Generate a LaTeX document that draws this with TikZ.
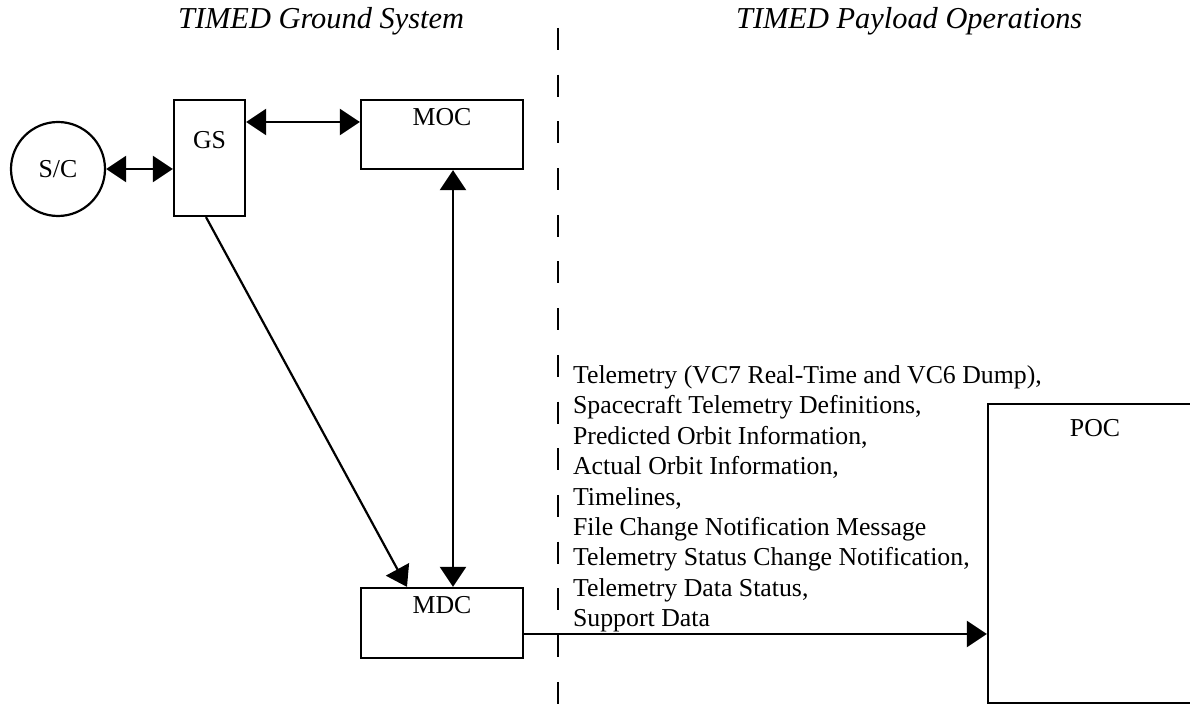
\documentclass[tikz,border=0pt]{standalone}
\usepackage{fontspec}
\setmainfont{Liberation Serif}
\usetikzlibrary{arrows.meta}

\begin{document}
\begin{tikzpicture}[x=0.5pt,y=-0.5pt,line width=1.1pt,
    font=\fontsize{12.9pt}{15.25pt}\selectfont,
    box/.style={draw,rectangle,inner sep=0pt},
    boxlabel/.style={anchor=north,inner sep=0pt},
    heading/.style={anchor=base west,inner sep=0pt,font=\fontsize{15.2pt}{18pt}\selectfont\itshape},
    tip/.style={-{Triangle[length=10pt,width=13pt]}},
    both/.style={{Triangle[length=10pt,width=13pt]}-{Triangle[length=10pt,width=13pt]}},
    divider/.style={line width=1pt,dash pattern=on 11pt off 12.35pt}]

  \useasboundingbox (0,0) rectangle (1190,705);
  \clip (0,0) rectangle (1190,705);

  % headings
  \node[heading] (ground) at (177,29) {TIMED Ground System};
  \node[heading] (payload) at (735,29) {TIMED Payload Operations};

  \draw[divider] (558,28) -- (558,705);

  % nodes
  \node[draw,circle,inner sep=0pt,minimum size=47pt] (sc) at (58,169) {S/C};
  \node[box,minimum width=35.5pt,minimum height=58pt,
        label={[boxlabel,yshift=-15.8pt]north:GS}] (gs) at (209.5,158) {};
  \node[box,minimum width=81pt,minimum height=34.5pt,
        label={[boxlabel,yshift=-4.3pt]north:MOC}] (moc) at (442,134.5) {};
  \node[box,minimum width=81pt,minimum height=35pt,
        label={[boxlabel,yshift=-4.3pt]north:MDC}] (mdc) at (442,623) {};
  \node[box,minimum width=107pt,minimum height=149.5pt,
        label={[boxlabel,yshift=-7.8pt]north:POC}] (poc) at (1095,553.5) {};

  \node[anchor=north west,inner sep=0pt,align=left] (flows) at (572,364)
    {Telemetry (VC7 Real-Time and VC6 Dump),\\
     Spacecraft Telemetry Definitions,\\
     Predicted Orbit Information,\\
     Actual Orbit Information,\\
     Timelines,\\
     File Change Notification Message\\
     Telemetry Status Change Notification,\\
     Telemetry Data Status,\\
     Support Data};

  % connectors
  \draw[both] (sc.east) -- (sc.east -| gs.west);
  \path ([yshift=18pt]gs.east) coordinate (gm);
  \draw[both] (gm) -- (gm -| moc.west);
  \draw[both] ([xshift=5.5pt]moc.south) -- ([xshift=5.5pt]mdc.north);
  \draw[tip] ([xshift=-1.75pt]gs.south) -- ([xshift=-17.5pt]mdc.north);
  \path ([yshift=-5.5pt]mdc.east) coordinate (mp);
  \draw[tip] (mp) -- (mp -| poc.west);

\end{tikzpicture}
\end{document}
